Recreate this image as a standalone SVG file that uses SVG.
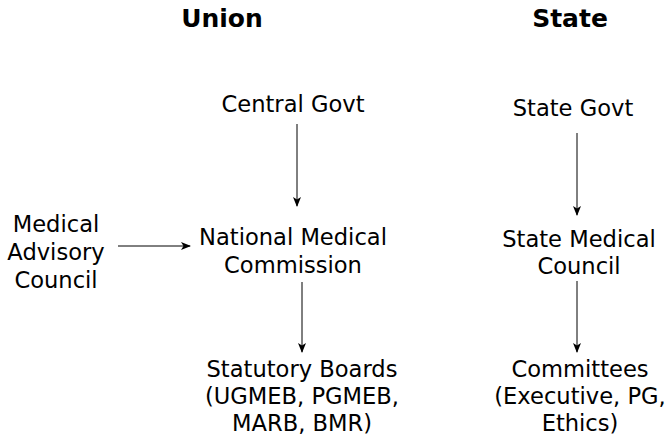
<svg xmlns="http://www.w3.org/2000/svg" width="671" height="435" viewBox="0 0 671 435">
<style>
text{font-family:"DejaVu Sans",sans-serif;font-size:22.6px;fill:#000;text-anchor:middle}
.h{font-weight:bold;font-size:25px}
.c line{stroke:#000;stroke-width:1}
</style>
<defs>
<marker id="ar" markerWidth="10" markerHeight="8" refX="9" refY="4" orient="auto" markerUnits="userSpaceOnUse">
<path d="M0,0 L10,4 L0,8 L2.5,4 Z" fill="#000"/>
</marker>
</defs>
<rect width="671" height="435" fill="#fff"/>
<g id="union-title"><text class="h" x="222" y="27">Union</text></g>
<g id="state-title"><text class="h" x="570" y="27">State</text></g>
<g id="central-govt"><text x="293" y="112">Central Govt</text></g>
<g id="state-govt"><text x="573" y="116">State Govt</text></g>
<g id="mac"><text x="56" y="232">Medical</text><text x="56" y="260">Advisory</text><text x="56" y="288">Council</text></g>
<g id="nmc"><text x="293" y="245">National Medical</text><text x="293" y="273">Commission</text></g>
<g id="smc"><text x="579" y="247">State Medical</text><text x="579" y="274">Council</text></g>
<g id="boards"><text x="302" y="377">Statutory Boards</text><text x="302" y="404">(UGMEB, PGMEB,</text><text x="302" y="431">MARB, BMR)</text></g>
<g id="committees"><text x="580" y="377">Committees</text><text x="580" y="404">(Executive, PG,</text><text x="580" y="431">Ethics)</text></g>
<g class="c" id="connectors">
<line x1="297" y1="124" x2="297" y2="206" marker-end="url(#ar)"/>
<line x1="577" y1="133" x2="577" y2="215" marker-end="url(#ar)"/>
<line x1="118" y1="246" x2="190" y2="246" marker-end="url(#ar)"/>
<line x1="302" y1="282" x2="302" y2="352" marker-end="url(#ar)"/>
<line x1="577" y1="281" x2="577" y2="352" marker-end="url(#ar)"/>
</g>
</svg>
